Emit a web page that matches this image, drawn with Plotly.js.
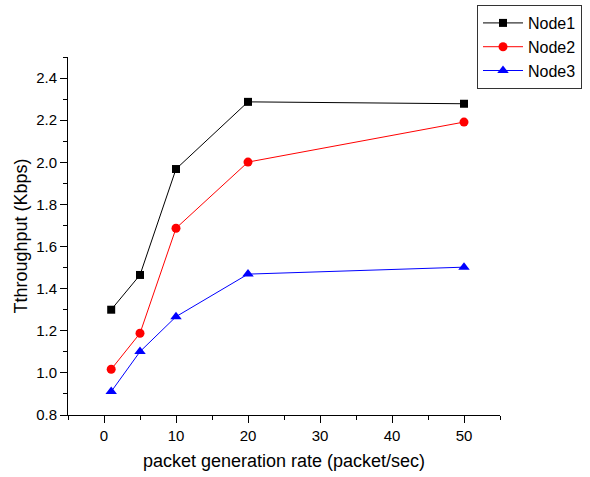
<!DOCTYPE html>
<html>
<head>
<meta charset="utf-8">
<script src="https://cdn.plot.ly/plotly-3.0.1.min.js"></script>
<style>html,body{margin:0;padding:0;background:#fff;}#chart{width:590px;height:477px;}</style>
</head>
<body>
<div id="chart"></div>
<script>
const rates = [1, 5, 10, 20, 50];
const node1 = [1.30, 1.465, 1.968, 2.287, 2.278];
const node2 = [1.017, 1.188, 1.687, 2.001, 2.191];
const node3 = [0.911, 1.101, 1.267, 1.469, 1.502];
const seriesNames = ['Node1', 'Node2', 'Node3'];
const xTicks = [0, 10, 20, 30, 40, 50];
const yTicks = [0.8, 1.0, 1.2, 1.4, 1.6, 1.8, 2.0, 2.2, 2.4];
const yTickText = ['0.8', '1.0', '1.2', '1.4', '1.6', '1.8', '2.0', '2.2', '2.4'];

const font = {family: 'Arial, "Liberation Sans", sans-serif', color: '#000'};
const traces = [
  {x: rates, y: node1, name: seriesNames[0], mode: 'lines+markers', line: {color: '#000', width: 1}, marker: {symbol: 'square', size: 8, color: '#000'}},
  {x: rates, y: node2, name: seriesNames[1], mode: 'lines+markers', line: {color: '#ff0000', width: 1}, marker: {symbol: 'circle', size: 9, color: '#ff0000'}},
  {x: rates, y: node3, name: seriesNames[2], mode: 'lines+markers', line: {color: '#0000ff', width: 1}, marker: {symbol: 'triangle-up', size: 10, color: '#0000ff'}}
];
const layout = {
  width: 590, height: 477,
  margin: {l: 68, r: 90, t: 57, b: 62, autoexpand: false},
  paper_bgcolor: '#fff', plot_bgcolor: '#fff',
  font: Object.assign({size: 15}, font),
  showlegend: true,
  legend: {xref: 'container', yref: 'container', x: 0.8085, y: 0.9895, xanchor: 'left', yanchor: 'top',
    bordercolor: '#333', borderwidth: 1, bgcolor: '#fff', font: Object.assign({size: 16}, font), tracegroupgap: 0, itemwidth: 40},
  xaxis: {
    range: [-5, 55], tickvals: xTicks, showgrid: false, zeroline: false,
    showline: true, linecolor: '#000', linewidth: 1, ticks: 'outside', ticklen: 7, tickcolor: '#000',
    minor: {dtick: 5, tick0: 0, ticks: 'outside', ticklen: 4, tickcolor: '#000', showgrid: false},
    tickfont: Object.assign({size: 15}, font),
    title: {text: 'packet generation rate (packet/sec)', font: Object.assign({size: 18}, font), standoff: 11}
  },
  yaxis: {
    range: [0.8, 2.5], tickvals: yTicks, ticktext: yTickText,
    showgrid: false, zeroline: false,
    showline: true, linecolor: '#000', linewidth: 1, ticks: 'outside', ticklen: 7, tickcolor: '#000',
    minor: {dtick: 0.1, tick0: 0.8, ticks: 'outside', ticklen: 4, tickcolor: '#000', showgrid: false},
    tickfont: Object.assign({size: 15}, font),
    title: {text: 'Tthroughput (Kbps)', font: Object.assign({size: 18}, font), standoff: 3}
  }
};
Plotly.newPlot('chart', traces, layout, {displayModeBar: false, staticPlot: true});
</script>
</body>
</html>
